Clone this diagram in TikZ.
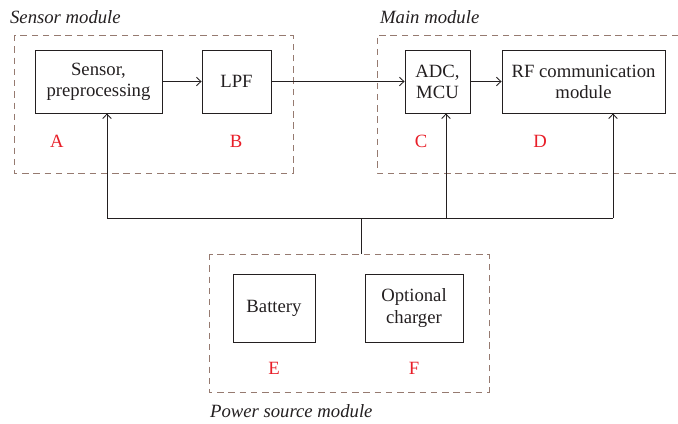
\documentclass[tikz,border=0pt]{standalone}
\usepackage{fontspec}
\setmainfont{Liberation Serif}
\usepackage{xcolor}
\usepackage{tikz}
\usetikzlibrary{calc, positioning, arrows.meta}

\definecolor{modgray}{RGB}{150,122,112}
\definecolor{tagred}{RGB}{232,30,40}
\definecolor{inkgray}{RGB}{35,31,32}

\begin{document}
\begin{tikzpicture}[>={Straight Barb[length=3.2pt, width=6pt]}, x=0.025cm, y=-0.025cm, line width=0.6pt,
    font=\fontsize{13.3}{15}\selectfont, color=inkgray,
    block/.style={draw, align=center, inner sep=2pt},
    modbox/.style={draw=modgray, dash pattern=on 4.6pt off 3.4pt, line width=0.6pt},
    tag/.style={text=tagred},
    modname/.style={anchor=west, font=\fontsize{13.3}{15}\selectfont\itshape}]

    % =================================================================
    % 1. KHUNG VA KICH THUOC
    % =================================================================
    \useasboundingbox (0,0) rectangle (678,423);

    % Khung cac module (net dut)
    \draw[modbox] (14,35) rectangle (293,173);
    \draw[modbox] (678,35) -- (377,35) -- (377,173) -- (678,173);
    \draw[modbox] (209,254) rectangle (489,392);

    \node[modname] (nSens) at (5,17) {Sensor module};
    \node[modname] (nMain) at (375,17) {Main module};
    \node[modname] (nPwr)  at (205,411) {Power source module};

    % =================================================================
    % 2. CAC KHOI
    % =================================================================
    \node[block, minimum width=3.175cm, minimum height=1.575cm] (sens) at (98.5,81.5) {Sensor,\\preprocessing};
    \node[block, minimum width=1.725cm, minimum height=1.575cm] (lpf) at (236.5,81.5) {LPF};
    \node[block, minimum width=1.625cm, minimum height=1.575cm] (adc) at (437.5,81.5) {ADC,\\MCU};
    \node[block, minimum width=4.075cm, minimum height=1.575cm] (rf) at (583.5,81.5) {RF communication\\module};
    \node[block, minimum width=2.05cm, minimum height=1.7cm] (bat) at (274,308) {Battery};
    \node[block, minimum width=2.45cm, minimum height=1.7cm] (chg) at (414,308) {Optional\\charger};

    % Nhan chu cai
    \node[tag] (tA) at (57,141) {A};
    \node[tag] (tB) at (236,141) {B};
    \node[tag] (tC) at (421,141) {C};
    \node[tag] (tD) at (540,141) {D};
    \node[tag] (tE) at (274,368) {E};
    \node[tag] (tF) at (414,368) {F};

    % =================================================================
    % 3. DUONG TIN HIEU
    % =================================================================
    \draw[->] (sens) -- (lpf);
    \draw[->] (lpf) -- (adc);
    \draw[->] (adc) -- (rf);

    % =================================================================
    % 4. DUONG NGUON
    % =================================================================
    \coordinate (jA) at (107,218);
    \coordinate (jC) at (446,218);
    \coordinate (jD) at (613,218);
    \coordinate (jP) at (361,218);

    \draw (jA) -- (jD);
    \draw[->] (jA) -- (jA |- sens.south);
    \draw[->] (jC) -- (jC |- adc.south);
    \draw[->] (jD) -- (jD |- rf.south);
    \draw (jP) -- (361,254);

\end{tikzpicture}
\end{document}
